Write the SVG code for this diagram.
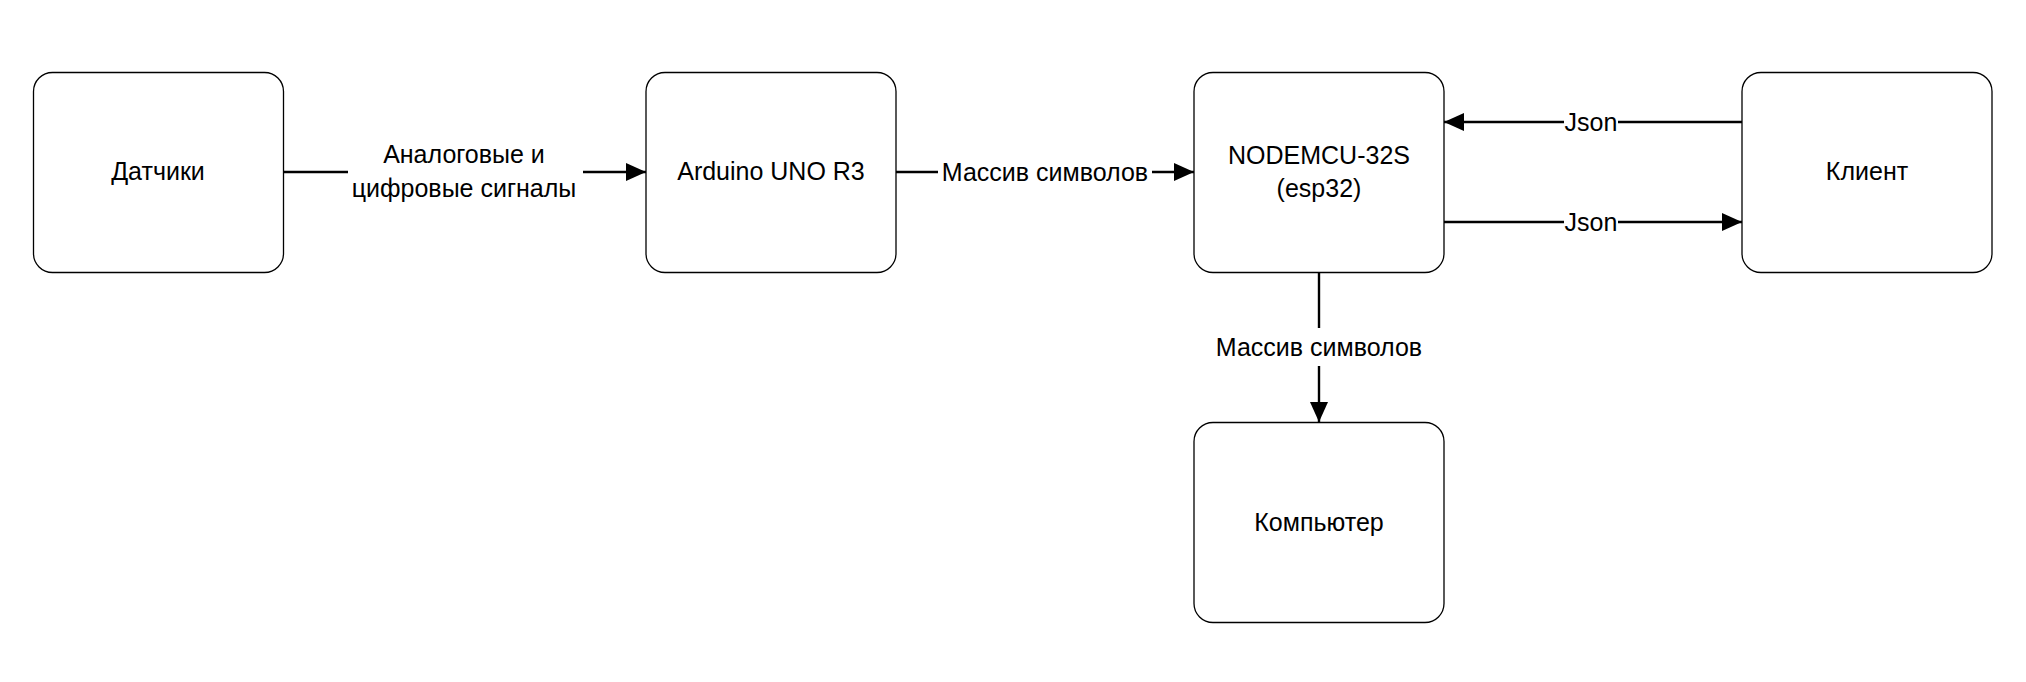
<svg xmlns="http://www.w3.org/2000/svg" width="2026" height="682" viewBox="0 0 2026 682">
<style>
.box{fill:#fff;stroke:#000;stroke-width:1.3}
.t{font-family:"Liberation Sans",Arial,sans-serif;font-size:25px;fill:#000;text-anchor:middle;dominant-baseline:central}
.ln{stroke:#000;stroke-width:2.4;fill:none}
.bg{fill:#fff}
</style>
<defs>
<marker id="ah" markerUnits="userSpaceOnUse" markerWidth="20" markerHeight="18" refX="20" refY="9" orient="auto">
<path d="M0,0 L20,9 L0,18 Z" fill="#000"/>
</marker>
</defs>
<rect width="2026" height="682" fill="#fff"/>
<g id="connectors">
<line class="ln" x1="283" y1="172" x2="348" y2="172"/>
<line class="ln" x1="583" y1="172" x2="646" y2="172" marker-end="url(#ah)"/>
<line class="ln" x1="895" y1="172" x2="1194" y2="172" marker-end="url(#ah)"/>
<line class="ln" x1="1742" y1="122" x2="1444" y2="122" marker-end="url(#ah)"/>
<line class="ln" x1="1444" y1="222" x2="1742" y2="222" marker-end="url(#ah)"/>
<line class="ln" x1="1319" y1="273" x2="1319" y2="328"/>
<line class="ln" x1="1319" y1="366" x2="1319" y2="422" marker-end="url(#ah)"/>
<rect class="bg" x="938" y="158" width="214" height="28"/>
<rect class="bg" x="1564" y="108" width="54" height="28"/>
<rect class="bg" x="1564" y="208" width="54" height="28"/>
<text class="t" x="464" y="154">Аналоговые и</text>
<text class="t" x="464" y="188">цифровые сигналы</text>
<text class="t" x="1045" y="172">Массив символов</text>
<text class="t" x="1591" y="122">Json</text>
<text class="t" x="1591" y="222">Json</text>
<text class="t" x="1319" y="347">Массив символов</text>
</g>
<g id="datchiki">
<rect class="box" x="33.5" y="72.5" width="250" height="200" rx="19"/>
<text class="t" x="158" y="171">Датчики</text>
</g>
<g id="arduino">
<rect class="box" x="646" y="72.5" width="250" height="200" rx="19"/>
<text class="t" x="771" y="171">Arduino UNO R3</text>
</g>
<g id="nodemcu">
<rect class="box" x="1194" y="72.5" width="250" height="200" rx="19"/>
<text class="t" x="1319" y="155">NODEMCU-32S</text>
<text class="t" x="1319" y="188">(esp32)</text>
</g>
<g id="client">
<rect class="box" x="1742" y="72.5" width="250" height="200" rx="19"/>
<text class="t" x="1867" y="171">Клиент</text>
</g>
<g id="computer">
<rect class="box" x="1194" y="422.5" width="250" height="200" rx="19"/>
<text class="t" x="1319" y="522">Компьютер</text>
</g>
</svg>
